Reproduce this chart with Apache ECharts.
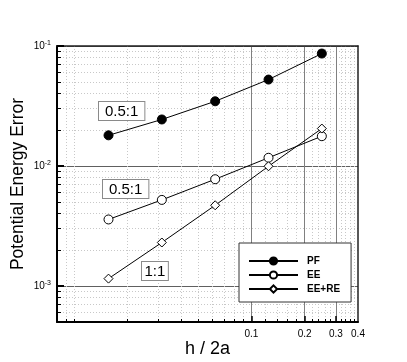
<!DOCTYPE html>
<html><head><meta charset="utf-8">
<script src="https://cdn.jsdelivr.net/npm/echarts@6/dist/echarts.min.js"></script>
<style>html,body{margin:0;padding:0;background:#fff}#c{width:407px;height:362px}</style>
</head><body><div id="c"></div>
<script>
// ---- data ----
const hValues   = [0.015625, 0.03125, 0.0625, 0.125, 0.25];
const pfError   = [0.0180, 0.0244, 0.0346, 0.0525, 0.0865];
const eeError   = [0.00358, 0.00521, 0.00775, 0.0117, 0.0177];
const eereError = [0.00115, 0.00230, 0.00470, 0.00994, 0.0205];
const seriesNames = ['PF', 'EE', 'EE+RE'];
const xLabelValues = [0.1, 0.2, 0.3, 0.4];
const xMajorValues = [0.1, 0.2, 0.3];
const xMinorValues = [0.009, 0.01, 0.02, 0.03, 0.04, 0.05, 0.06, 0.07, 0.08, 0.09, 0.12, 0.14, 0.16, 0.18, 0.22, 0.24, 0.26, 0.28, 0.32, 0.34, 0.36, 0.38];
const yLabelValues = [0.001, 0.01, 0.1];
const yMinorValues = [0.0006, 0.0007, 0.0008, 0.0009, 0.002, 0.003, 0.004, 0.005, 0.006, 0.007, 0.008, 0.009, 0.02, 0.03, 0.04, 0.05, 0.06, 0.07, 0.08, 0.09];
const annotationTexts = ['0.5:1', '0.5:1', '1:1'];
const xTitle = 'h / 2a';
const yTitle = 'Potential Energy Error';

const FONT = 'Liberation Sans, Arial, Helvetica, sans-serif';
const xRange = {min: 0.008, max: 0.4};
const yRange = {min: 0.0005, max: 0.1};

const chart = echarts.init(document.getElementById('c'), null, {renderer: 'canvas'});

const pairs = arr => hValues.map((x, i) => [x, arr[i]]);
const annotationPos = [[99, 102], [103, 180], [142, 262]];
const annotationPad = [[2, 6, 1, 6], [2, 6, 1, 6], [2, 2.5, 1, 2.5]];

const option = {
  animation: false,
  backgroundColor: '#fff',
  textStyle: {fontFamily: FONT},
  grid: {left: 57, right: 49, top: 46, bottom: 40, containLabel: false, outerBoundsMode: 'none'},
  xAxis: [
    {type: 'log', logBase: 10, min: xRange.min, max: xRange.max, position: 'bottom',
     axisLine: {show: true, lineStyle: {color: '#000', width: 2}},
     axisTick: {show: true, inside: true, length: 6, customValues: xMajorValues, lineStyle: {color: '#000', width: 1.5}},
     axisLabel: {show: true, customValues: xLabelValues, formatter: v => String(Math.round(v * 10) / 10), fontSize: 10, color: '#000', margin: 7, fontFamily: FONT},
     splitLine: {show: true, lineStyle: {color: '#808080', width: 1}},
     name: xTitle, nameLocation: 'middle', nameGap: 18, nameMoveOverlap: false,
     nameTextStyle: {fontSize: 18, color: '#000', fontFamily: FONT, verticalAlign: 'top'}},
    {type: 'log', logBase: 10, min: xRange.min, max: xRange.max, position: 'bottom',
     axisLine: {show: false},
     axisTick: {show: true, inside: true, length: 3, customValues: xMinorValues, lineStyle: {color: '#000', width: 1}},
     axisLabel: {show: false},
     splitLine: {show: true, lineStyle: {color: '#c8c8c8', width: 1, type: [1, 2]}}},
    {type: 'log', logBase: 10, min: xRange.min, max: xRange.max, position: 'top',
     axisLine: {show: true, lineStyle: {color: '#222', width: 1.5}},
     axisTick: {show: false}, axisLabel: {show: false}, splitLine: {show: false}}
  ],
  yAxis: [
    {type: 'log', logBase: 10, min: yRange.min, max: yRange.max, position: 'left',
     axisLine: {show: true, lineStyle: {color: '#000', width: 2}},
     axisTick: {show: true, inside: true, length: 7, customValues: yLabelValues, lineStyle: {color: '#000', width: 2}},
     axisLabel: {show: true, customValues: yLabelValues, margin: 6,
       formatter: v => '{b|10}{s|' + Math.round(Math.log10(v)) + '}',
       rich: {b: {fontSize: 10, color: '#000', fontFamily: FONT, lineHeight: 12},
              s: {fontSize: 7, color: '#000', fontFamily: FONT, verticalAlign: 'top', lineHeight: 12, padding: [0, 0, 5, 0]}}},
     splitLine: {show: true, lineStyle: {color: '#606060', width: 1}},
     name: yTitle, nameLocation: 'middle', nameGap: 30, nameRotate: 90, nameMoveOverlap: false,
     nameTextStyle: {fontSize: 17.5, color: '#000', fontFamily: FONT}},
    {type: 'log', logBase: 10, min: yRange.min, max: yRange.max, position: 'left',
     axisLine: {show: false},
     axisTick: {show: true, inside: true, length: 4, customValues: yMinorValues, lineStyle: {color: '#000', width: 1}},
     axisLabel: {show: false},
     splitLine: {show: true, lineStyle: {color: '#c8c8c8', width: 1, type: [1, 2]}}},
    {type: 'log', logBase: 10, min: yRange.min, max: yRange.max, position: 'right',
     axisLine: {show: true, lineStyle: {color: '#222', width: 1.5}},
     axisTick: {show: false}, axisLabel: {show: false}, splitLine: {show: false}}
  ],
  legend: {
    orient: 'vertical', left: 239, top: 243,
    padding: [13, 11, 8, 9], itemWidth: 49, itemHeight: 9, itemGap: 4,
    backgroundColor: '#fff', borderColor: '#333', borderWidth: 1,
    textStyle: {fontWeight: 'bold', fontSize: 10, color: '#000', fontFamily: FONT, padding: [0, 0, 0, 4]},
    data: seriesNames
  },
  series: [
    {name: seriesNames[0], type: 'line', data: pairs(pfError), symbol: 'circle', symbolSize: 9,
     itemStyle: {color: '#000', borderColor: '#000', borderWidth: 1}, lineStyle: {color: '#000', width: 1}, z: 5},
    {name: seriesNames[1], type: 'line', data: pairs(eeError), symbol: 'circle', symbolSize: 9,
     itemStyle: {color: '#fff', borderColor: '#000', borderWidth: 1}, lineStyle: {color: '#000', width: 1}, z: 5},
    {name: seriesNames[2], type: 'line', data: pairs(eereError), symbol: 'diamond', symbolSize: 9,
     itemStyle: {color: '#fff', borderColor: '#000', borderWidth: 1}, lineStyle: {color: '#000', width: 1}, z: 5}
  ],
  graphic: annotationTexts.map((t, i) => ({
    type: 'text', x: annotationPos[i][0], y: annotationPos[i][1], z: 10,
    style: {text: t, font: '15px ' + FONT, fill: '#000', backgroundColor: '#fff',
            borderColor: '#8a8a8a', borderWidth: 1, padding: annotationPad[i],
            textAlign: 'left', textVerticalAlign: 'top'}
  }))
};
chart.setOption(option);
</script>
</body></html>
